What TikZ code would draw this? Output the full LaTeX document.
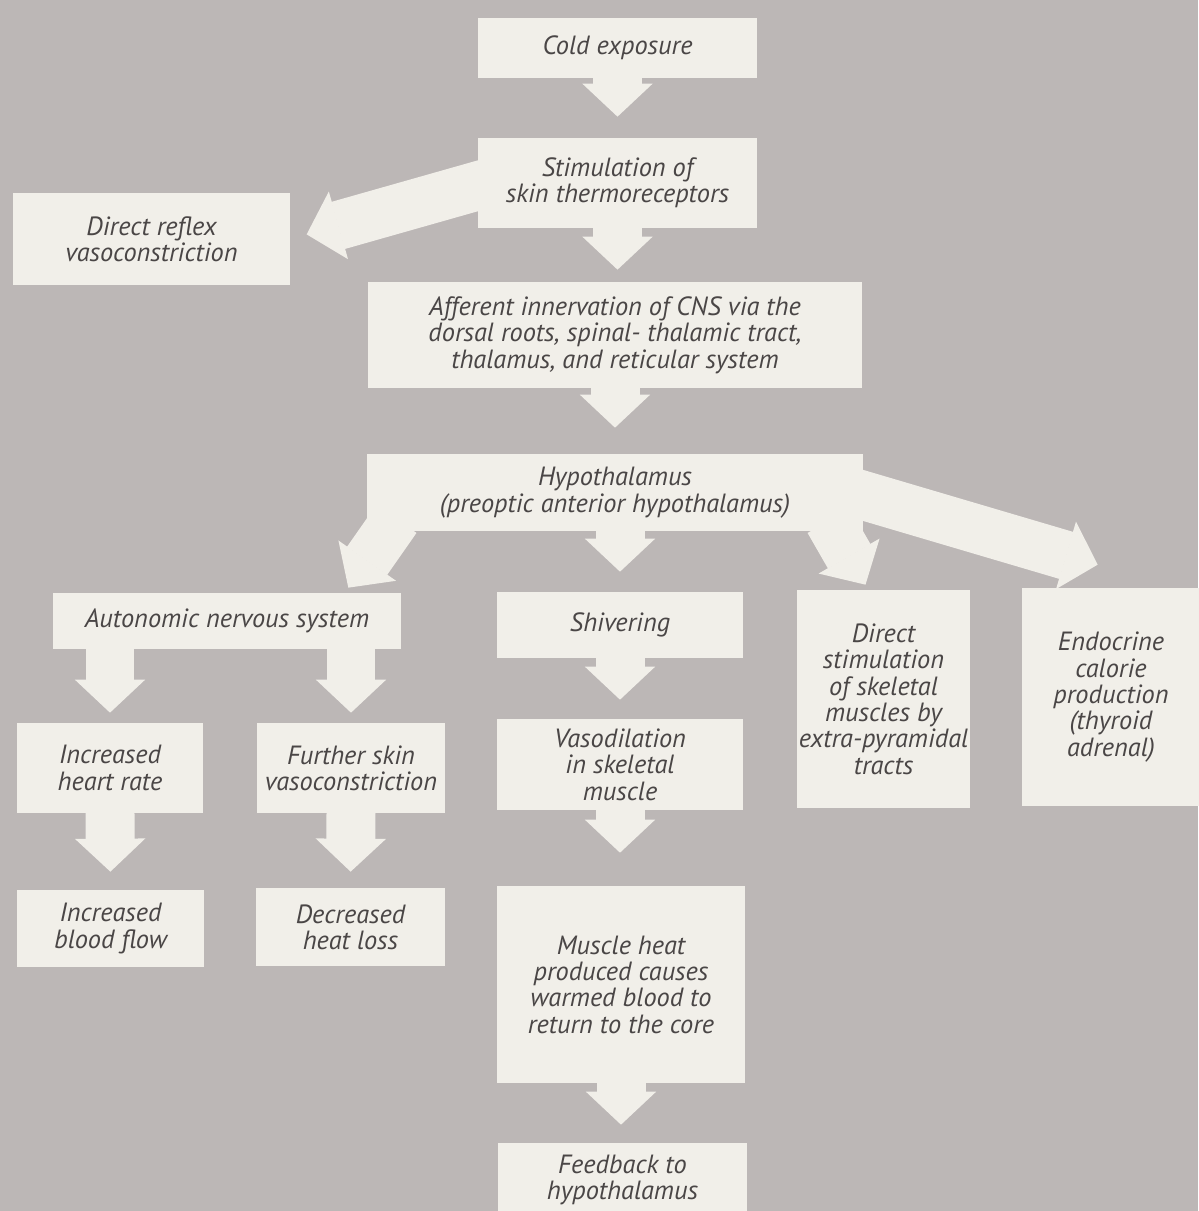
\documentclass[tikz,border=0pt]{standalone}
\usepackage{fontspec}
\setmainfont{PT Sans}
\usetikzlibrary{
	arrows.meta,
	calc,
	positioning
}
\definecolor{paper}{HTML}{BCB7B6}
\definecolor{boxfill}{HTML}{F1EFE9}
\definecolor{ink}{HTML}{4A4646}

\begin{document}
\begin{tikzpicture}[
	x=0.02cm, y=-0.02cm,
	box/.style={
		fill=boxfill, inner sep=0pt, align=center, text=ink,
		font=\itshape\fontsize{15}{15}\selectfont
	},
	flow/.style={
		line width=0.98cm, draw=boxfill, shorten <=-0.06cm, shorten >=#1,
		-{Triangle[length=0.66cm, width=1.4cm, line width=1pt]}
	},
	flow/.default=0.36cm
	]
	
	% Page and background
	\useasboundingbox (0,0) rectangle (1198,1211);
	\fill[paper] (0,0) rectangle (1198,1211);
	
	% --- Afferent chain ---
	\node[box, minimum width=5.58cm, minimum height=1.2cm] (cold) at (617.5,48) {Cold exposure};
	\node[box, minimum width=5.58cm, minimum height=1.8cm] (stim) at (617.5,183) {Stimulation of\\ skin thermoreceptors};
	\node[box, minimum width=5.54cm, minimum height=1.84cm] (reflex) at (151.5,239) {Direct reflex\\ vasoconstriction};
	\node[box, minimum width=9.88cm, minimum height=2.12cm] (aff) at (615,335) {Afferent innervation of CNS via the\\ dorsal roots, spinal- thalamic tract,\\ thalamus, and reticular system};
	\node[box, minimum width=9.92cm, minimum height=1.54cm] (hypo) at (615,492.5) {Hypothalamus\\ (preoptic anterior hypothalamus)};
	
	% --- Effector branches ---
	\node[box, minimum width=6.96cm, minimum height=1.12cm] (auto) at (227,621) {Autonomic nervous system};
	\node[box, minimum width=4.92cm, minimum height=1.32cm] (shiv) at (620,625) {Shivering};
	\node[box, minimum width=3.46cm, minimum height=4.36cm] (dstim) at (883.5,699) {Direct\\ stimulation\\ of skeletal\\ muscles by\\ extra-pyramidal\\ tracts};
	\node[box, minimum width=3.56cm, minimum height=4.36cm] (endo) at (1111,697) {Endocrine\\ calorie\\ production\\ (thyroid\\ adrenal)};
	
	% --- Responses ---
	\node[box, minimum width=3.72cm, minimum height=1.8cm] (heart) at (110,768) {Increased\\ heart rate};
	\node[box, minimum width=3.76cm, minimum height=1.8cm] (skin) at (351,768) {Further skin\\ vasoconstriction};
	\node[box, minimum width=4.92cm, minimum height=1.82cm] (vasod) at (620,764.5) {Vasodilation\\ in skeletal\\ muscle};
	\node[box, minimum width=3.74cm, minimum height=1.54cm] (blood) at (110.5,928.5) {Increased\\ blood flow};
	\node[box, minimum width=3.78cm, minimum height=1.56cm] (decr) at (350.5,927) {Decreased\\ heat loss};
	\node[box, minimum width=4.96cm, minimum height=3.94cm] (muscle) at (621,984.5) {Muscle heat\\ produced causes\\ warmed blood to\\ return to the core};
	\node[box, minimum width=4.98cm, minimum height=1.48cm] (feed) at (622.5,1180) {Feedback to\\ hypothalamus};
	
	% --- Block arrows ---
	\draw[flow=0.42cm] (cold.south) -- (stim.north);
	\draw[flow=0.34cm] ($(stim.west)+(10,0)$) -- (reflex.east);
	\draw[flow=0.24cm] (stim.south) -- (stim.south |- aff.north);
	\draw[flow=0.52cm] (aff.south) -- (hypo.north);
	
	\draw[flow=0cm] ($(hypo.south west)+(28,-10)$) -- ($(auto.north east)+(-53,-5)$);
	\draw[flow=0.40cm] (shiv.north |- hypo.south) -- (shiv.north);
	\draw[flow=0cm] ($(hypo.south east)+(-33,-8)$) -- ($(dstim.north)+(-18,-5)$);
	\draw[flow=0cm] ($(hypo.east)+(-10,0)$) -- ($(endo.north west)+(76,-23)$);
	
	\draw[flow=0.20cm] (heart.north |- auto.south) -- (heart.north);
	\draw[flow=0.20cm] (skin.north |- auto.south) -- (skin.north);
	\draw[flow=0.38cm] (shiv.south) -- (vasod.north);
	
	\draw[flow] (heart.south) -- (blood.north);
	\draw[flow=0.32cm] (skin.south) -- (decr.north);
	\draw[flow=0.66cm] (vasod.south) -- (vasod.south |- muscle.north);
	\draw[flow] (muscle.south) -- (muscle.south |- feed.north);
\end{tikzpicture}
\end{document}
